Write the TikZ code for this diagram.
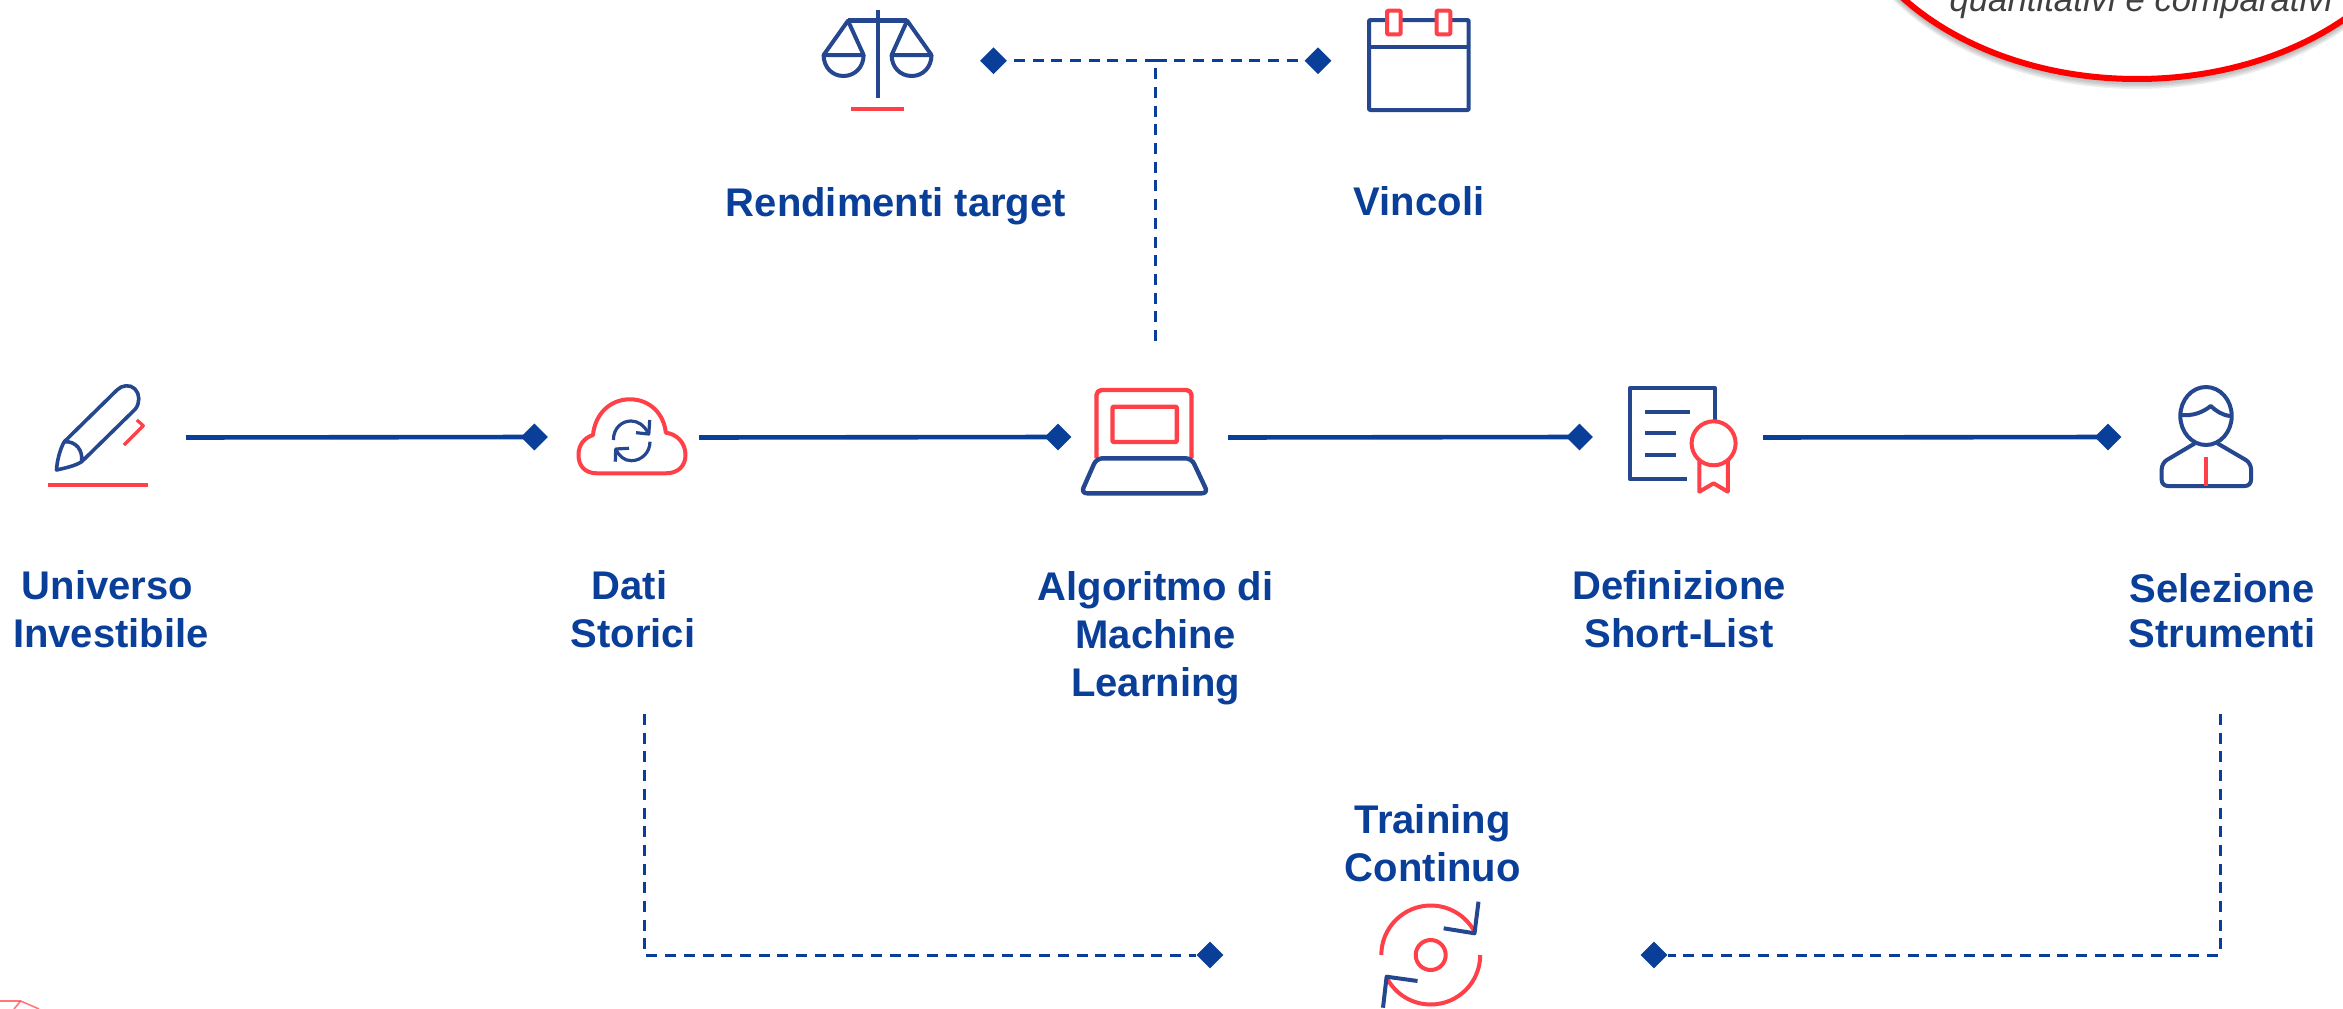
\documentclass[tikz,border=0pt]{standalone}
\usepackage{fontspec}
\setmainfont{Liberation Sans}
\usetikzlibrary{shapes.geometric}
\definecolor{cblue}{HTML}{0A3F99}
\definecolor{iblue}{HTML}{24478F}
\definecolor{ired}{HTML}{FF4048}
\definecolor{tgrey}{HTML}{404040}
\tikzset{
  lab/.style={font=\fontsize{40}{47.8}\selectfont\bfseries, text=cblue, align=center, inner sep=0pt},
  dia/.style={diamond, fill=cblue, inner sep=0pt, minimum width=27pt, minimum height=27pt},
  conn/.style={draw=cblue, line width=4.6pt},
  dconn/.style={draw=cblue, line width=3pt, dash pattern=on 11pt off 7.7pt},
  ib/.style={draw=iblue, line width=4pt, line join=round},
  ir/.style={draw=ired, line width=4pt, line join=round},
  shadowline/.style={draw=black!70, line width=6pt, opacity=0.09}
}
\begin{document}
\begin{tikzpicture}[x=1pt,y=-1pt]
\useasboundingbox (0,0) rectangle (2343,1009);
\clip (0,0) rectangle (2343,1009);
\fill[white] (0,0) rectangle (2343,1009);

% callout ellipse
\foreach \s in {1,2.5,4,5.5,7}{
  \draw[shadowline] (2137,{-137+\s}) ellipse [x radius=300, y radius=216];
}
\draw[draw=red, fill=white, line width=6pt] (2137,-137) ellipse [x radius=300, y radius=216];
\node[anchor=base, inner sep=0pt, text=tgrey, font=\fontsize{34.8}{40}\selectfont\itshape] (note) at (2141,12) {quantitativi e comparativi};

% labels
\node[lab] (lrend) at (896,206) {Rendimenti target};
\node[lab] (lvinc) at (1419,201.5) {Vincoli};
\node[lab] (luni) at (111,609.5) {Universo\rule{7pt}{0pt}\\Investibile};
\node[lab] (ldati) at (633,609.5) {Dati\rule{7pt}{0pt}\\Storici};
\node[lab] (lalg) at (1155.6,638) {Algoritmo di\\Machine\\Learning};
\node[lab] (ldef) at (1679,609.5) {Definizione\\Short-List};
\node[lab] (lsel) at (2222,611) {Selezione\\[-3pt]Strumenti};
\node[lab] (ltrain) at (1432.7,843.5) {Training\\Continuo};

% diamonds
\node[dia] (d1) at (534.4,437) {};
\node[dia] (d2) at (1058,437) {};
\node[dia] (d3) at (1579.5,437) {};
\node[dia] (d4) at (2108,437) {};
\node[dia] (dtl) at (993.5,60.7) {};
\node[dia] (dtr) at (1318,60.7) {};
\node[dia] (dbl) at (1210,955) {};
\node[dia] (dbr) at (1654,955) {};

% connector ends
\coordinate (s1) at (186,437.5);
\coordinate (s2) at (699,437.5);
\coordinate (s3) at (1228,437.5);
\coordinate (s4) at (1763,437.5);
\coordinate (tj) at (1155.7,60.7);
\coordinate (tv) at (1155.7,68.2);
\coordinate (te) at (1155.7,341);
\coordinate (bl) at (644.3,714);
\coordinate (blc) at (644.3,955);
\coordinate (br) at (2220,714);
\coordinate (brc) at (2220,955);

\draw[conn] (s1) -- (d1.center);
\draw[conn] (s2) -- (d2.center);
\draw[conn] (s3) -- (d3.center);
\draw[conn] (s4) -- (d4.center);
\draw[dconn] (tj) -- (dtl);
\draw[dconn] (tj) -- (dtr);
\draw[dconn] (tv) -- (te);
\draw[dconn] (bl) -- (blc) -- (dbl);
\draw[dconn] (br) -- (brc) -- (dbr);

% pencil
\draw[ib, line width=3.6pt] (64.3,441.7) -- (117,390) .. controls (122,385) and (130,384) .. (135,389) .. controls (140,394) and (140,403) .. (135.4,409) -- (81.7,461.7)
  .. controls (75,466) and (65,468) .. (56.5,470) .. controls (57,461) and (60,449) .. (64.3,441.7)
  .. controls (76,441) and (83,450) .. (81.7,461.7);
\draw[ir, line width=3.2pt] (136.8,420) -- (143.3,425.7) -- (124,445);
\draw[ir] (48.2,485) -- (148.3,485);

% cloud
\draw[ir] (597,473.3) -- (665.8,473.3) .. controls (678,473.3) and (685.5,466) .. (685.5,455)
  .. controls (685.5,443) and (677,434) .. (665.8,432.7) .. controls (664,414) and (650,399.3) .. (630,399.3)
  .. controls (610,399.3) and (595,414) .. (593,435) .. controls (584,438) and (578.5,445) .. (578.5,455)
  .. controls (578.5,466) and (585,473.3) .. (597,473.3) -- cycle;
\draw[ib, line width=3.2pt] (613.4,440) .. controls (613.4,428) and (622,421) .. (631,421) .. controls (638,421) and (644,425) .. (648.8,434);
\draw[ib, line width=3.2pt] (649.7,420) -- (648.8,434) -- (636,432.7);
\draw[ib, line width=3.2pt] (650,441.7) .. controls (650,453) and (641,460.7) .. (631.3,460.7) .. controls (624,460.7) and (619,456) .. (615.7,449);
\draw[ib, line width=3.2pt] (629,448.3) -- (615.7,449) -- (615.3,461.7);

% laptop
\draw[ir, line width=4.4pt, rounded corners=5pt] (1096.5,458.3) -- (1096.5,390) -- (1191.5,390) -- (1191.5,458.3);
\draw[ir, line width=4.4pt, rounded corners=1pt] (1112.5,406.7) rectangle (1176.8,442);
\draw[ib, line width=4.4pt, rounded corners=6pt] (1096.5,458.3) -- (1191.5,458.3) -- (1208,493.3) -- (1081,493.3) -- cycle;

% certificate
\draw[ib] (1715,420) -- (1715,388.3) -- (1630,388.3) -- (1630,479.3) -- (1687.4,479.3);
\draw[ib] (1645,411.7) -- (1689.7,411.7);
\draw[ib] (1645,432.7) -- (1676,432.7);
\draw[ib] (1645,455) -- (1676,455);
\draw[ir] (1699.3,460) -- (1699.3,491.7) -- (1713.6,483.3) -- (1727.8,491.7) -- (1727.8,460);
\draw[ir, fill=white] (1713.6,443.3) ellipse [x radius=22, y radius=22];

% person
\draw[ib] (2206,416) ellipse [x radius=25.7, y radius=29];
\draw[ib] (2181.7,415) .. controls (2192,416) and (2202,413) .. (2210.7,406) .. controls (2216,411) and (2222,415) .. (2230,416);
\draw[ib, rounded corners=6pt] (2195,443.3) -- (2161.7,463) -- (2161.7,486) -- (2251,486) -- (2251,463) -- (2217.3,443.3);
\draw[ir] (2206,457) -- (2206,486);

% scales
\draw[ib] (877.8,10) -- (877.8,98.3);
\draw[ib, line width=4.6pt] (848,20.7) -- (907.2,20.7);
\draw[ib] (823.6,55) -- (848,20.7) -- (863.6,55) -- cycle;
\draw[ib] (891.6,55) -- (907.2,20.7) -- (931.5,55) -- cycle;
\draw[ib] (823.6,55) .. controls (823.6,67) and (832,76) .. (843.4,76) .. controls (855,76) and (863.6,67) .. (863.6,55);
\draw[ib] (891.6,55) .. controls (891.6,67) and (900,76) .. (911.8,76) .. controls (923,76) and (931.5,67) .. (931.5,55);
\draw[ir] (851.2,108.7) -- (904,108.7);

% calendar
\draw[ib, rounded corners=1pt] (1369,20) rectangle (1468.7,110);
\draw[ib] (1369,46.7) -- (1468.7,46.7);
\draw[ir, fill=white, rounded corners=1pt] (1387,10.7) rectangle (1400.7,34.3);
\draw[ir, fill=white, rounded corners=1pt] (1436.6,10.7) rectangle (1450.3,34.3);

% refresh
\draw[ir] (1430.7,955) circle [radius=15];
\draw[ir] (1381.3,955) arc [start angle=180, end angle=332, radius=49.5];
\draw[ir] (1480.2,955) arc [start angle=0, end angle=152, radius=49.5];
\draw[ib] (1478.5,901.7) -- (1474.5,933.3) -- (1443.7,928.3);
\draw[ib] (1383,1007.7) -- (1386.6,976.7) -- (1417.5,981);

% stray mark at the lower left
\draw[draw=ired, line width=1.6pt, opacity=0.7] (0,1001) -- (20.7,1001) -- (39,1009);
\draw[draw=ired, line width=1.6pt, opacity=0.7] (20.7,1001) -- (14,1009);
\end{tikzpicture}
\end{document}
